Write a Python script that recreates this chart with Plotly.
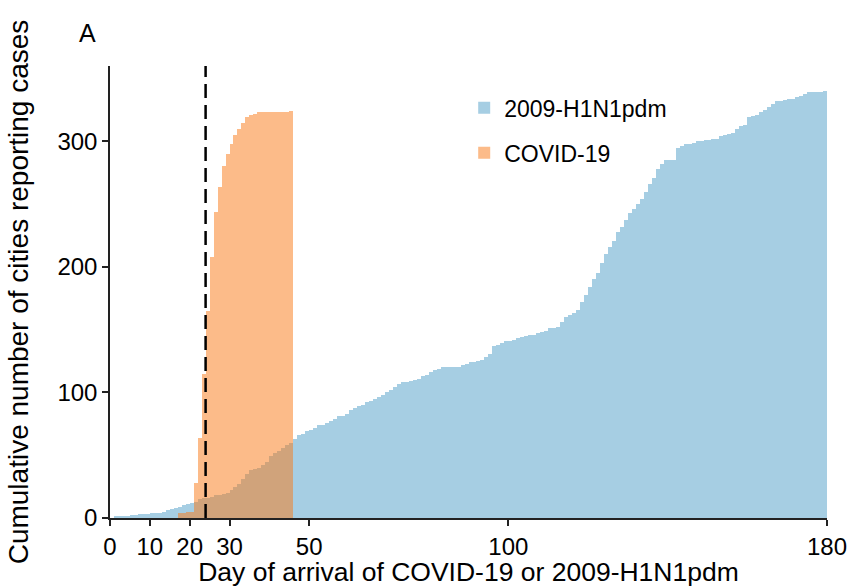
import plotly.graph_objects as go

# ---- data ----
h1n1_days = list(range(1, 180))
h1n1_cum = [
    1, 1, 1, 1, 2, 2, 3, 3, 3, 4, 4, 4, 5, 6, 7, 8, 9, 10, 11, 12,
    13, 15, 16, 16, 17, 18, 18, 19, 20, 22,
    25, 27, 31, 35, 38, 39, 40, 42, 45, 49, 52, 53, 56, 58, 60,
    63, 66, 67, 69, 70, 72, 74, 74, 76, 77, 79, 81, 81, 83, 86,
    88, 89, 90, 92, 93, 95, 96, 98, 100, 102, 104, 107, 108, 108, 109,
    110, 111, 113, 114, 116, 118, 119, 120, 120, 120, 120, 120, 122, 123, 124,
    124, 125, 126, 128, 131, 137, 138, 139, 141, 141, 142, 143, 144, 145, 146,
    146, 147, 148, 149, 151, 151, 152, 156, 160, 162, 163, 166, 172, 178, 184,
    190, 195, 203, 210, 216, 221, 228, 232, 237, 243, 246, 250, 254, 260, 266,
    271, 278, 282, 285, 285, 285, 295, 296, 298, 298, 299, 300, 300, 301, 301,
    302, 302, 304, 305, 306, 307, 310, 312, 313, 319, 320, 321, 323, 325, 327,
    330, 332, 332, 333, 334, 334, 335, 336, 338, 339, 339, 339, 339, 340,
]

covid_days = list(range(17, 46))
covid_cum = [
    4, 4, 5, 5, 28, 64, 115, 165, 208, 244, 264, 280, 290, 298, 305,
    310, 315, 319, 321, 322, 323, 323, 323, 323, 323, 323, 323, 323, 324,
]

lockdown_day = 24

x_ticks = [0, 10, 20, 30, 50, 100, 180]
y_ticks = [0, 100, 200, 300]

FONT = "Arial, Liberation Sans, sans-serif"

fig = go.Figure()
fig.add_trace(go.Bar(
    x=h1n1_days, y=h1n1_cum, width=1, offset=0,
    name="2009-H1N1pdm", legendgroup="a",
    marker=dict(color="#a6cee3", line=dict(width=0)),
))
fig.add_trace(go.Bar(
    x=covid_days, y=covid_cum, width=1, offset=0,
    name="COVID-19", legendgroup="b",
    marker=dict(color="rgba(250,120,20,0.5)", line=dict(width=0)),
))

fig.add_vline(x=lockdown_day, line=dict(color="black", width=2.5, dash="14px,7px"))

fig.add_annotation(text="A", xref="paper", yref="paper", x=-0.031, y=1.073,
                   showarrow=False, font=dict(size=25, color="black", family=FONT),
                   xanchor="center", yanchor="middle")

fig.update_layout(
    width=852, height=587,
    margin=dict(l=110, r=25, t=66, b=69),
    plot_bgcolor="white", paper_bgcolor="white",
    barmode="overlay", bargap=0,
    font=dict(family=FONT, color="black", size=24),
    legend=dict(x=0.494, y=0.955, xanchor="left", yanchor="top",
                font=dict(size=23), tracegroupgap=12, bgcolor="rgba(0,0,0,0)"),
    xaxis=dict(
        title=dict(text="Day of arrival of COVID-19 or 2009-H1N1pdm",
                   font=dict(size=26.5), standoff=9),
        range=[0, 180], tickvals=x_ticks, ticks="outside", ticklen=6,
        tickwidth=1.5, tickcolor="#222", showline=True, linecolor="#222",
        linewidth=1.5, showgrid=False, zeroline=False, tickfont=dict(size=24),
        automargin=False,
    ),
    yaxis=dict(
        title=dict(text="Cumulative number of cities reporting cases",
                   font=dict(size=28), standoff=21),
        range=[0, 360], tickvals=y_ticks, ticks="outside", ticklen=6,
        tickwidth=1.5, tickcolor="#222", showline=True, linecolor="#222",
        linewidth=1.5, showgrid=False, zeroline=False, tickfont=dict(size=24),
        automargin=False,
    ),
)

fig.write_html("out.html", config={"displayModeBar": False},
               post_script="document.body.style.margin='0';")
